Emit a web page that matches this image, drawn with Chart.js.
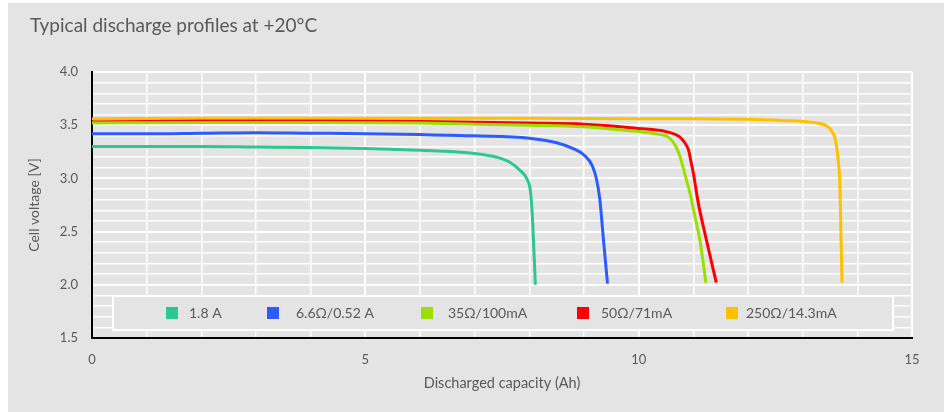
<!DOCTYPE html>
<html>
<head>
<meta charset="utf-8">
<script src="https://cdn.jsdelivr.net/npm/chart.js@4.4.1/dist/chart.umd.min.js"></script>
<style>
  html, body { margin: 0; padding: 0; background: #ffffff; }
  #wrap { width: 949px; height: 412px; }
</style>
</head>
<body>
<div id="wrap"><canvas id="c" width="949" height="412"></canvas></div>
<script>
// ---- Data ----
const chartTitle = "Typical discharge profiles at +20°C";
const xAxisTitle = "Discharged capacity (Ah)";
const yAxisTitle = "Cell voltage [V]";

const seriesLabels = ["1.8 A", "6.6Ω/0.52 A", "35Ω/100mA", "50Ω/71mA", "250Ω/14.3mA"];
const seriesColors = ["#2BC98F", "#2B5CFF", "#99E000", "#FF0000", "#FFC000"];

const cap18A   = [0, 1, 2, 3, 4, 5, 6, 6.5, 7, 7.4, 7.65, 7.82, 7.95, 8.02, 8.06, 8.11];
const volt18A  = [3.30, 3.30, 3.30, 3.295, 3.29, 3.28, 3.265, 3.255, 3.235, 3.20, 3.15, 3.08, 3.00, 2.88, 2.60, 2.00];

const cap66R   = [0, 1, 2, 3, 4, 5, 6, 7, 8, 8.5, 8.8, 9.0, 9.15, 9.23, 9.29, 9.36, 9.43];
const volt66R  = [3.42, 3.42, 3.425, 3.43, 3.425, 3.42, 3.412, 3.40, 3.378, 3.335, 3.28, 3.22, 3.12, 2.99, 2.80, 2.40, 2.01];

const cap35R   = [0, 2, 4, 6, 7, 8, 9, 9.5, 10, 10.3, 10.57, 10.68, 10.76, 10.85, 10.94, 11.03, 11.12, 11.23];
const volt35R  = [3.52, 3.525, 3.525, 3.52, 3.51, 3.50, 3.485, 3.465, 3.44, 3.42, 3.377, 3.30, 3.20, 3.03, 2.86, 2.64, 2.42, 2.02];

const cap50R   = [0, 1, 2, 4, 6, 8, 9, 10, 10.5, 10.75, 10.85, 10.91, 10.96, 11.0, 11.09, 11.24, 11.42];
const volt50R  = [3.53, 3.535, 3.54, 3.54, 3.535, 3.52, 3.51, 3.47, 3.44, 3.39, 3.33, 3.27, 3.15, 3.05, 2.77, 2.42, 2.02];

const cap250R  = [0, 2, 4, 6, 8, 10, 11, 12, 12.6, 13.2, 13.45, 13.55, 13.6, 13.65, 13.68, 13.70, 13.72];
const volt250R = [3.56, 3.565, 3.565, 3.565, 3.565, 3.56, 3.56, 3.555, 3.545, 3.525, 3.49, 3.43, 3.36, 3.17, 2.95, 2.48, 2.02];

const xMin = 0, xMax = 15, xStep = 1, xLabelEvery = 5;
const yMin = 1.5, yMax = 4.0, yStep = 0.1, yLabelEvery = 0.5;

const capSeries = [cap18A, cap66R, cap35R, cap50R, cap250R];
const voltSeries = [volt18A, volt66R, volt35R, volt50R, volt250R];

// ---- Build datasets ----
const datasets = seriesLabels.map((lab, i) => ({
  label: lab,
  data: capSeries[i].map((x, j) => ({ x: x, y: voltSeries[i][j] })),
  borderColor: seriesColors[i],
  backgroundColor: seriesColors[i],
  borderWidth: 3,
  pointRadius: 0,
  fill: false,
  cubicInterpolationMode: 'monotone',
  borderCapStyle: 'butt'
}));

const FONT = "Lato, 'Open Sans', sans-serif";
const TXT = "#595959";

const bgPlugin = {
  id: 'bg',
  beforeDraw(chart) {
    const ctx = chart.ctx;
    ctx.save();
    ctx.fillStyle = '#ffffff';
    ctx.fillRect(0, 0, chart.width, chart.height);
    ctx.fillStyle = '#e4e4e4';
    ctx.fillRect(8, 3, 936, 409);
    ctx.restore();
  }
};

const legendPlugin = {
  id: 'boxLegend',
  afterDraw(chart) {
    const ctx = chart.ctx;
    const box = { x: 113, y: 296, w: 780, h: 34 };
    const sqX = [166, 267, 421, 577, 726];
    const txX = [189, 296, 448, 601, 746];
    ctx.save();
    ctx.fillStyle = '#e4e4e4';
    ctx.fillRect(box.x, box.y, box.w, box.h);
    ctx.strokeStyle = '#ffffff';
    ctx.lineWidth = 2;
    ctx.strokeRect(box.x, box.y, box.w, box.h);
    const cy = box.y + box.h / 2;
    ctx.font = "14px " + FONT;
    ctx.textBaseline = 'middle';
    ctx.textAlign = 'left';
    chart.data.datasets.forEach((ds, i) => {
      ctx.fillStyle = ds.borderColor;
      ctx.fillRect(sqX[i], cy - 6, 12, 12);
      ctx.fillStyle = TXT;
      ctx.fillText(ds.label, txX[i], cy);
    });
    ctx.restore();
  }
};

function isMult(v, m) {
  const r = v / m;
  return Math.abs(r - Math.round(r)) < 1e-6;
}

new Chart(document.getElementById('c'), {
  type: 'line',
  data: { datasets: datasets },
  plugins: [bgPlugin, legendPlugin],
  options: {
    responsive: false,
    animation: false,
    devicePixelRatio: 1,
    parsing: true,
    layout: { padding: { left: 30, right: 37, top: 0, bottom: 0 } },
    plugins: {
      legend: { display: false },
      tooltip: { enabled: false },
      title: {
        display: true,
        text: chartTitle,
        align: 'start',
        color: TXT,
        font: { family: FONT, size: 19, weight: 'normal' },
        padding: { top: 14, bottom: 35.2 }
      }
    },
    scales: {
      x: {
        type: 'linear',
        min: xMin, max: xMax,
        ticks: {
          stepSize: xStep, autoSkip: false, maxRotation: 0, padding: 14,
          color: TXT, font: { family: FONT, size: 13 },
          callback: v => isMult(v, xLabelEvery) ? String(Math.round(v)) : ''
        },
        grid: {
          color: '#ffffff', drawTicks: false,
          lineWidth: c => isMult(c.tick.value, xLabelEvery) ? 2 : 1.5
        },
        border: { color: '#000000', width: 2 },
        title: {
          display: true, text: xAxisTitle, color: TXT,
          font: { family: FONT, size: 14.5 },
          padding: { top: 0, bottom: 20 }
        },
        afterFit(s) { s.height = 74; }
      },
      y: {
        type: 'linear',
        min: yMin, max: yMax,
        ticks: {
          stepSize: yStep, autoSkip: false, padding: 14,
          color: TXT, font: { family: FONT, size: 13 },
          callback: v => isMult(v, yLabelEvery) ? v.toFixed(1) : ''
        },
        grid: {
          color: '#ffffff', drawTicks: false,
          lineWidth: c => isMult(c.tick.value, yLabelEvery) ? 2 : 1.5
        },
        border: { color: '#000000', width: 2 },
        title: {
          display: true, text: yAxisTitle, color: TXT,
          font: { family: FONT, size: 14 },
          padding: { top: -3.5, bottom: 0 }
        },
        afterFit(s) { s.width = 62; }
      }
    }
  }
});
</script>
</body>
</html>
